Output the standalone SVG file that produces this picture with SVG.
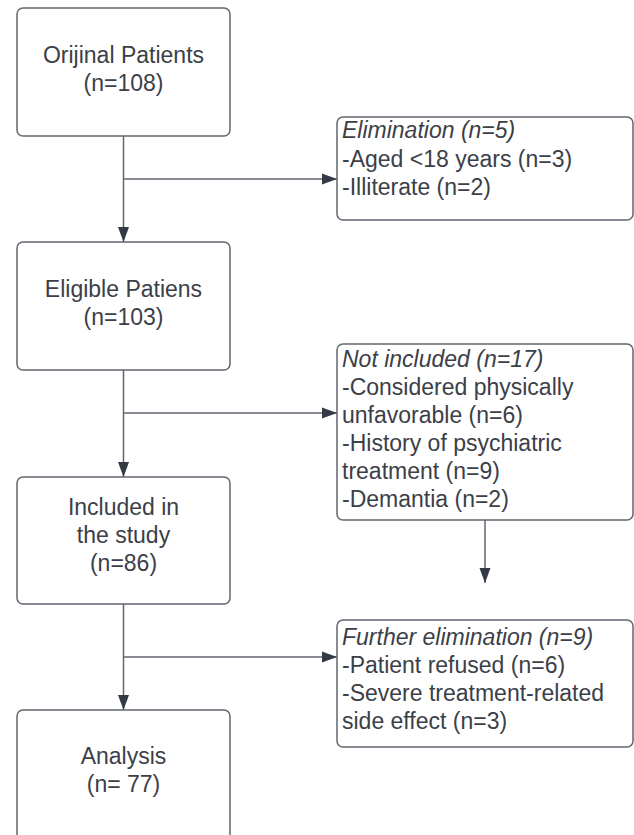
<svg xmlns="http://www.w3.org/2000/svg" width="634" height="835" viewBox="0 0 634 835">
<style>
.box{fill:#ffffff;stroke:#62676f;stroke-width:1.5}
.t{font-family:"Liberation Sans",Arial,sans-serif;font-size:23px;fill:#3b4048}
.c{text-anchor:middle}
.i{font-style:italic}
.ln{fill:none;stroke:#62676f;stroke-width:1.5}
</style>
<defs>
<marker id="ah" markerUnits="userSpaceOnUse" markerWidth="16" markerHeight="12" refX="15" refY="6" orient="auto">
<path d="M0,0.5 L15,6 L0,11.5 Z" fill="#333a45"/>
</marker>
</defs>
<rect width="634" height="835" fill="#ffffff"/>
<g id="connectors">
<line class="ln" x1="123.5" y1="136" x2="123.5" y2="242" marker-end="url(#ah)"/>
<line class="ln" x1="123.5" y1="179" x2="337" y2="179" marker-end="url(#ah)"/>
<line class="ln" x1="123.5" y1="370" x2="123.5" y2="477" marker-end="url(#ah)"/>
<line class="ln" x1="123.5" y1="413" x2="337" y2="413" marker-end="url(#ah)"/>
<line class="ln" x1="123.5" y1="604" x2="123.5" y2="710" marker-end="url(#ah)"/>
<line class="ln" x1="123.5" y1="657" x2="337" y2="657" marker-end="url(#ah)"/>
<line class="ln" x1="485" y1="520" x2="485" y2="583" marker-end="url(#ah)"/>
</g>
<g id="original">
<rect class="box" x="17" y="8" width="213" height="128" rx="6"/>
<text class="t c" x="123.5" y="63">Orijinal Patients</text>
<text class="t c" x="123.5" y="91">(n=108)</text>
</g>
<g id="eligible">
<rect class="box" x="17" y="242" width="213" height="128" rx="6"/>
<text class="t c" x="123.5" y="297">Eligible Patiens</text>
<text class="t c" x="123.5" y="325">(n=103)</text>
</g>
<g id="included">
<rect class="box" x="17" y="477" width="213" height="127" rx="6"/>
<text class="t c" x="123.5" y="515">Included in</text>
<text class="t c" x="123.5" y="543">the study</text>
<text class="t c" x="123.5" y="571">(n=86)</text>
</g>
<g id="analysis">
<rect class="box" x="17" y="710" width="213" height="140" rx="6"/>
<text class="t c" x="123.5" y="764">Analysis</text>
<text class="t c" x="123.5" y="792">(n= 77)</text>
</g>
<g id="elimination">
<rect class="box" x="337" y="117" width="296" height="103" rx="6"/>
<text class="t i" x="342" y="138">Elimination (n=5)</text>
<text class="t" x="342" y="167">-Aged &lt;18 years (n=3)</text>
<text class="t" x="342" y="195">-Illiterate (n=2)</text>
</g>
<g id="notincluded">
<rect class="box" x="337" y="344" width="296" height="176" rx="6"/>
<text class="t i" x="342" y="367">Not included (n=17)</text>
<text class="t" x="342" y="395">-Considered physically</text>
<text class="t" x="342" y="423">unfavorable (n=6)</text>
<text class="t" x="342" y="451">-History of psychiatric</text>
<text class="t" x="342" y="479">treatment (n=9)</text>
<text class="t" x="342" y="507">-Demantia (n=2)</text>
</g>
<g id="further">
<rect class="box" x="337" y="620" width="296" height="127" rx="6"/>
<text class="t i" x="342" y="645">Further elimination (n=9)</text>
<text class="t" x="342" y="673">-Patient refused (n=6)</text>
<text class="t" x="342" y="701">-Severe treatment-related</text>
<text class="t" x="342" y="729">side effect (n=3)</text>
</g>
</svg>
